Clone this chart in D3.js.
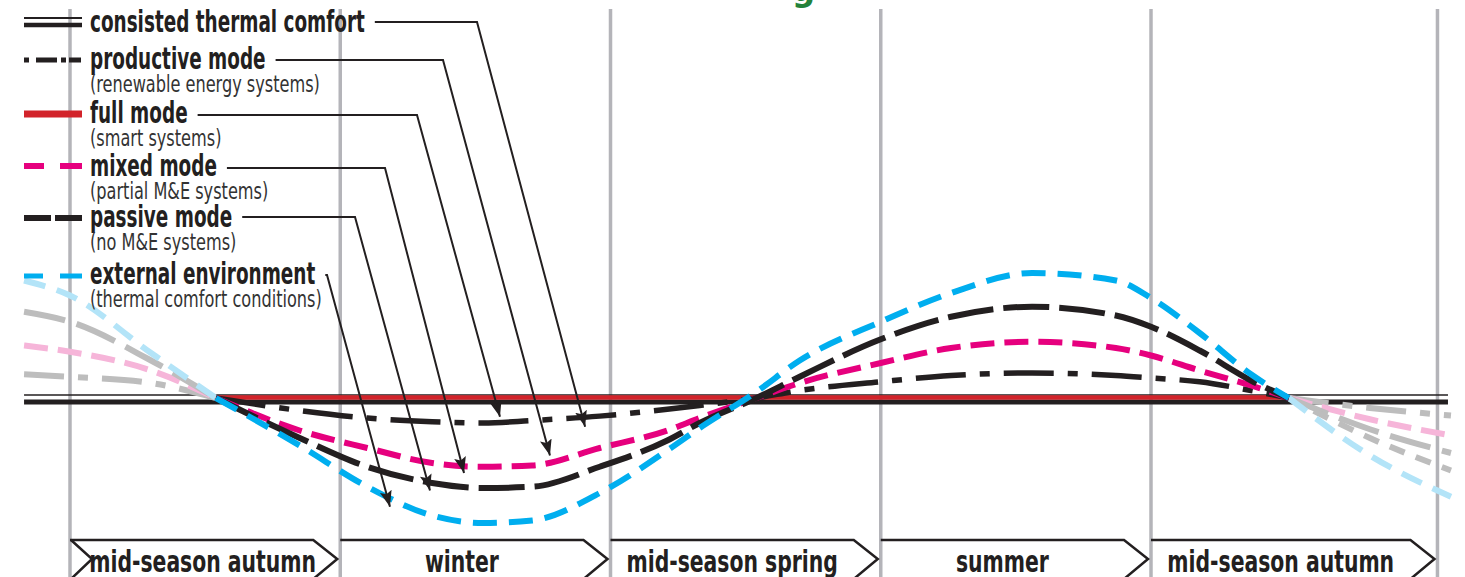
<!DOCTYPE html>
<html>
<head>
<meta charset="utf-8">
<script src="https://cdnjs.cloudflare.com/ajax/libs/d3/7.8.5/d3.min.js"></script>
<style>
  body { margin: 0; background: #fff; }
  text { font-family: "Liberation Sans Narrow", "DejaVu Sans Condensed", "Liberation Sans", sans-serif; }
</style>
</head>
<body>
<script>

// seasons along the bottom band, boundaries in "season" units
let seasons = ["mid-season autumn", "winter", "mid-season spring", "summer", "mid-season autumn"];
let seasonBounds = [0, 1, 2, 3, 4, 5.06];

// legend
let legendNames = ["consisted thermal comfort", "productive mode", "full mode", "mixed mode", "passive mode", "external environment"];
let legendNotes = ["", "(renewable energy systems)", "(smart systems)", "(partial M&E systems)", "(no M&E systems)", "(thermal comfort conditions)"];

// main curves, x in seasons, value = deviation from comfort
let curveX         = [0.54, 0.85, 1.1, 1.34, 1.53, 1.71, 1.96, 2.21, 2.33, 2.54, 2.7, 3.0, 3.26, 3.56, 3.87, 4.0, 4.18, 4.37, 4.51];
let externalVals   = [0, -3.8, -7.1, -9.4, -10, -9.8, -7.6, -4.2, -2.4, 0.5, 3.0, 6.1, 8.4, 10, 9.4, 8.0, 5.2, 1.9, 0];
let passiveVals    = [0, -3.2, -5.5, -6.8, -7.2, -7.1, -5.5, -3.4, -2.0, 0, 1.7, 4.7, 6.5, 7.3, 6.6, 5.7, 3.8, 1.4, 0];
let mixedVals      = [0, -2.6, -4.0, -5.2, -5.5, -5.4, -4.0, -2.6, -1.6, 0, 1.2, 2.8, 4.0, 4.5, 4.0, 3.4, 2.2, 1.0, 0];
let productiveVals = [0, -1.0, -1.6, -1.9, -2.0, -1.8, -1.45, -0.9, -0.6, 0, 0.6, 1.3, 1.8, 2.0, 1.8, 1.6, 1.3, 0.6, 0];

// faded continuation on the left
let fadeLeftX          = [-0.17, 0, 0.3, 0.54];
let fadeLeftExternal   = [9.4, 8.2, 3.6, 0];
let fadeLeftPassive    = [6.9, 6.1, 3.0, 0];
let fadeLeftMixed      = [4.2, 3.7, 2.2, 0];
let fadeLeftProductive = [1.9, 1.7, 1.2, 0];

// faded continuation on the right
let fadeRightX          = [4.51, 4.81, 5.11];
let fadeRightExternal   = [0, -4.6, -7.9];
let fadeRightExtra      = [0, -3.2, -5.8];
let fadeRightPassive    = [0, -2.5, -4.4];
let fadeRightMixed      = [0, -1.7, -3.0];
let fadeRightProductive = [0, -0.8, -1.4];

// where each legend arrow points [season, value]
let arrowTargets = [[1.906, -2.3], [1.776, -4.6], [1.591, -1.5], [1.458, -6.0], [1.332, -7.4], [1.184, -8.7]];


let svgWidth = 1465;
let svgHeight = 577;
let ink = "#231f20";
let blue = "#00aeef";
let pink = "#e6007e";
let red = "#d2232a";

let svg = d3.select("body")
  .append("svg")
    .attr("width", svgWidth)
    .attr("height", svgHeight)
    .style("background-color", "white");

let xScale = d3.scaleLinear().domain([0, 5]).range([70, 1421.25]);
let yScale = d3.scaleLinear().domain([-10, 10]).range([523, 273]);

svg.append("defs").append("marker")
    .attr("id", "head")
    .attr("markerUnits", "userSpaceOnUse")
    .attr("markerWidth", 18)
    .attr("markerHeight", 14)
    .attr("refX", 16)
    .attr("refY", 6)
    .attr("orient", "auto")
  .append("path")
    .attr("d", "M0,0 L16,6 L0,12 L3,6 Z")
    .attr("fill", ink);

// title peeking in at the top
svg.append("text")
    .attr("x", 792)
    .attr("y", 1)
    .attr("font-family", "Liberation Sans")
    .attr("font-weight", "bold")
    .attr("font-size", 36)
    .attr("fill", "#23823a")
    .text("g");

// grey season dividers
svg.append("g").selectAll("line").data(seasonBounds).enter()
  .append("line")
    .attr("x1", d => xScale(d))
    .attr("x2", d => xScale(d))
    .attr("y1", 9)
    .attr("y2", svgHeight)
    .attr("stroke", "#b4b4b9")
    .attr("stroke-width", 3.5);

// comfort band: thin + thick black, red between the crossings
let xLeft = xScale(fadeLeftX[0]);
let xRight = xScale(fadeRightX[fadeRightX.length - 1]) - 3;
svg.append("line")
    .attr("x1", xLeft).attr("x2", xRight)
    .attr("y1", yScale(0) - 3).attr("y2", yScale(0) - 3)
    .attr("stroke", ink).attr("stroke-width", 1.6);
svg.append("line")
    .attr("x1", xLeft).attr("x2", xRight)
    .attr("y1", yScale(0) + 4).attr("y2", yScale(0) + 4)
    .attr("stroke", ink).attr("stroke-width", 5);
svg.append("line")
    .attr("x1", xScale(curveX[0])).attr("x2", xScale(curveX[curveX.length - 1]))
    .attr("y1", yScale(0) - 0.5).attr("y2", yScale(0) - 0.5)
    .attr("stroke", red).attr("stroke-width", 4.5);

let lineGen = d3.line()
  .x(d => xScale(d[0]))
  .y(d => yScale(d[1]))
  .curve(d3.curveMonotoneX);

function zipUp(xs, vs){
  return xs.map((x, i) => [x, vs[i]]);
}

// faded lines first
let faded = [
  { pts: zipUp(fadeLeftX, fadeLeftProductive), color: "#bdbdbd", dash: "40,14,10,14" },
  { pts: zipUp(fadeLeftX, fadeLeftMixed), color: "#f6b5d9", dash: "24,10" },
  { pts: zipUp(fadeLeftX, fadeLeftPassive), color: "#bdbdbd", dash: "42,12" },
  { pts: zipUp(fadeLeftX, fadeLeftExternal), color: "#b3e4f8", dash: "22,12" },
  { pts: zipUp(fadeRightX, fadeRightProductive), color: "#bdbdbd", dash: "40,14,10,14" },
  { pts: zipUp(fadeRightX, fadeRightMixed), color: "#f6b5d9", dash: "24,10" },
  { pts: zipUp(fadeRightX, fadeRightPassive), color: "#bdbdbd", dash: "42,12" },
  { pts: zipUp(fadeRightX, fadeRightExtra), color: "#bdbdbd", dash: "16,12" },
  { pts: zipUp(fadeRightX, fadeRightExternal), color: "#b3e4f8", dash: "22,12" }
];
svg.append("g").selectAll("path").data(faded).enter()
  .append("path")
    .attr("d", d => lineGen(d.pts))
    .attr("fill", "none")
    .attr("stroke", d => d.color)
    .attr("stroke-width", 6)
    .attr("stroke-dasharray", d => d.dash);

let curves = [
  { pts: zipUp(curveX, productiveVals), color: ink, dash: "50,14,10,14", w: 5.5 },
  { pts: zipUp(curveX, mixedVals), color: pink, dash: "24,10", w: 6 },
  { pts: zipUp(curveX, passiveVals), color: ink, dash: "46,10", w: 6 },
  { pts: zipUp(curveX, externalVals), color: blue, dash: "24,12", w: 6 }
];
svg.append("g").selectAll("path").data(curves).enter()
  .append("path")
    .attr("d", d => lineGen(d.pts))
    .attr("fill", "none")
    .attr("stroke", d => d.color)
    .attr("stroke-width", d => d.w)
    .attr("stroke-dasharray", d => d.dash);

// legend swatches
let sw = svg.append("g");
sw.append("line").attr("x1", 24).attr("x2", 82).attr("y1", 18).attr("y2", 18).attr("stroke", ink).attr("stroke-width", 2);
sw.append("line").attr("x1", 24).attr("x2", 82).attr("y1", 25).attr("y2", 25).attr("stroke", ink).attr("stroke-width", 4.5);
sw.append("line").attr("x1", 24).attr("x2", 82).attr("y1", 60).attr("y2", 60).attr("stroke", ink).attr("stroke-width", 5)
    .attr("stroke-dasharray", "5,7,21,4,5,3,12");
sw.append("line").attr("x1", 24).attr("x2", 82).attr("y1", 114).attr("y2", 114).attr("stroke", red).attr("stroke-width", 7);
sw.append("line").attr("x1", 24).attr("x2", 82).attr("y1", 166).attr("y2", 166).attr("stroke", pink).attr("stroke-width", 6)
    .attr("stroke-dasharray", "20,16,22");
sw.append("line").attr("x1", 24).attr("x2", 82).attr("y1", 218).attr("y2", 218).attr("stroke", ink).attr("stroke-width", 6)
    .attr("stroke-dasharray", "27,4,27");
sw.append("line").attr("x1", 24).attr("x2", 82).attr("y1", 276).attr("y2", 276).attr("stroke", blue).attr("stroke-width", 5)
    .attr("stroke-dasharray", "19,17,22");

// legend text
let nameY = [32, 69, 123, 176, 227, 284];
let leaderY = [22, 60, 115, 168, 217, 275];
let bendX = [477, 443, 417, 385, 355, 327];
let squeezeBold = 0.66;
let squeezeNote = 0.78;
let squeezeSeason = 0.73;

let legend = svg.append("g");
legendNames.forEach(function(name, i){
  let t = legend.append("text")
      .attr("x", 90)
      .attr("y", nameY[i])
      .attr("font-weight", "bold")
      .attr("font-size", 31)
      .attr("fill", ink)
      .text(name);
  let w = t.node().getComputedTextLength() * squeezeBold;
  t.attr("textLength", w).attr("lengthAdjust", "spacingAndGlyphs");

  if(legendNotes[i] != ""){
    let n = legend.append("text")
        .attr("x", 90)
        .attr("y", nameY[i] + 23)
        .attr("font-size", 23)
        .attr("fill", "#333")
        .text(legendNotes[i]);
    n.attr("textLength", n.node().getComputedTextLength() * squeezeNote).attr("lengthAdjust", "spacingAndGlyphs");
  }

  // leader + arrow down to the curves
  let target = arrowTargets[i];
  let pts = [[90 + w + 10, leaderY[i]], [bendX[i], leaderY[i]], [xScale(target[0]), yScale(target[1])]];
  legend.append("path")
      .attr("d", d3.line()(pts))
      .attr("fill", "none")
      .attr("stroke", ink)
      .attr("stroke-width", 2)
      .attr("marker-end", "url(#head)");
});

// season band along the bottom
let band = svg.append("g");
seasons.forEach(function(s, i){
  let x0 = xScale(seasonBounds[i]);
  let x1 = xScale(seasonBounds[i + 1]);
  let top = 540;
  band.append("path")
      .attr("d", "M" + x0 + "," + top + "H" + (x1 - 27) + "L" + (x1 - 3) + ",559L" + (x1 - 27) + ",579")
      .attr("fill", "none")
      .attr("stroke", ink)
      .attr("stroke-width", 2.5);
  let left = x0;
  if(i == 0){
    band.append("path")
        .attr("d", "M" + (x0 + 1) + "," + top + "L" + (x0 + 22) + ",559L" + (x0 + 1) + ",579")
        .attr("fill", "none")
        .attr("stroke", ink)
        .attr("stroke-width", 2.5);
    left = x0 + 22;
  }
  let t = band.append("text")
      .attr("x", (left + x1 - 27) / 2)
      .attr("y", 572)
      .attr("text-anchor", "middle")
      .attr("font-weight", "bold")
      .attr("font-size", 31)
      .attr("fill", ink)
      .text(s);
  t.attr("textLength", t.node().getComputedTextLength() * squeezeSeason).attr("lengthAdjust", "spacingAndGlyphs");
});

</script>
</body>
</html>
